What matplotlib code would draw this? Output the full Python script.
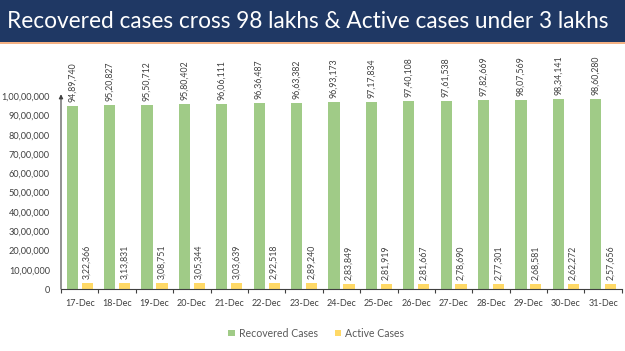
import matplotlib
matplotlib.use("Agg")
import matplotlib.pyplot as plt
import numpy as np
from matplotlib.patches import Rectangle

# data
dates = ["17-Dec", "18-Dec", "19-Dec", "20-Dec", "21-Dec", "22-Dec", "23-Dec", "24-Dec",
         "25-Dec", "26-Dec", "27-Dec", "28-Dec", "29-Dec", "30-Dec", "31-Dec"]
recovered = [9489740, 9520827, 9550712, 9580402, 9606111, 9636487, 9663382, 9693173,
             9717834, 9740108, 9761538, 9782669, 9807569, 9834141, 9860280]
active = [322366, 313831, 308751, 305344, 303639, 292518, 289240, 283849,
          281919, 281667, 278690, 277301, 268581, 262272, 257656]
y_ticks = [0, 1000000, 2000000, 3000000, 4000000, 5000000, 6000000, 7000000,
           8000000, 9000000, 10000000]
title = "Recovered cases cross 98 lakhs & Active cases under 3 lakhs"

green = "#A0CB87"
yellow = "#FFD966"
navy = "#1F3864"
grey_txt = "#404040"

plt.rcParams['font.family'] = ['Lato', 'DejaVu Sans']


def indian(n):
    # 9489740 -> 94,89,740
    s = str(int(n))
    if len(s) <= 3:
        return s
    head, tail = s[:-3], s[-3:]
    parts = []
    while len(head) > 2:
        parts.insert(0, head[-2:])
        head = head[:-2]
    if head:
        parts.insert(0, head)
    return ",".join(parts + [tail])


fig = plt.figure(figsize=(6.25, 3.51), dpi=100)
fig.patch.set_facecolor("white")

# title banner
fig.patches.append(Rectangle((0, 0.880), 1, 0.12, transform=fig.transFigure,
                             facecolor=navy, edgecolor="none", zorder=0))
fig.patches.append(Rectangle((0, 0.876), 1, 0.005, transform=fig.transFigure,
                             facecolor="#F4B183", edgecolor="none", zorder=0))
fig.text(0.492, 0.940, title, color="white", fontsize=16.3, ha="center", va="center")

ax = fig.add_axes([0.0976, 0.1766, 0.8974, 0.5494])
x = np.arange(len(dates))
w = 0.3
ax.bar(x - 0.2, recovered, w, color=green, label="Recovered Cases", zorder=2)
ax.bar(x + 0.2, active, w, color=yellow, label="Active Cases", zorder=2)

for xi, v in zip(x, recovered):
    ax.annotate(indian(v), (xi - 0.2, v), xytext=(0, 4), textcoords="offset pixels",
                rotation=90, ha="center", va="bottom", fontsize=6.3, color=grey_txt,
                annotation_clip=False)
for xi, v in zip(x, active):
    ax.annotate(indian(v), (xi + 0.2, v), xytext=(0, 4), textcoords="offset pixels",
                rotation=90, ha="center", va="bottom", fontsize=6.3, color=grey_txt,
                annotation_clip=False)

ax.set_xlim(-0.5, len(dates) - 0.5)
ax.set_ylim(0, 10000000)
ax.set_yticks(y_ticks)
ax.set_yticklabels([indian(t) for t in y_ticks], fontsize=6.6, color=grey_txt)
ax.set_xticks(x)
ax.set_xticklabels(dates, fontsize=6.5, color=grey_txt)
ax.set_xticks(np.arange(len(dates) + 1) - 0.5, minor=True)
ax.tick_params(axis="x", which="major", length=0, pad=7)
ax.tick_params(axis="x", which="minor", length=3, color="#404040", width=0.8)
ax.tick_params(axis="y", length=0, pad=8)

for s in ["top", "right", "left"]:
    ax.spines[s].set_visible(False)
ax.spines["bottom"].set_color("#404040")
ax.spines["bottom"].set_linewidth(0.8)

# y axis line with arrow head at the top
ax.annotate("", xy=(0, 1.01), xytext=(0, 0), xycoords="axes fraction",
            textcoords="axes fraction",
            arrowprops=dict(arrowstyle="-|>", color="#404040", lw=0.8,
                            mutation_scale=6, shrinkA=0, shrinkB=0))

fig.legend(loc="center", bbox_to_anchor=(0.506, 0.051), ncol=2, frameon=False,
           fontsize=7.6, handlelength=0.6, handleheight=0.6, columnspacing=1.6,
           handletextpad=0.4, labelcolor="#595959")

plt.savefig("out.png", dpi=100)
